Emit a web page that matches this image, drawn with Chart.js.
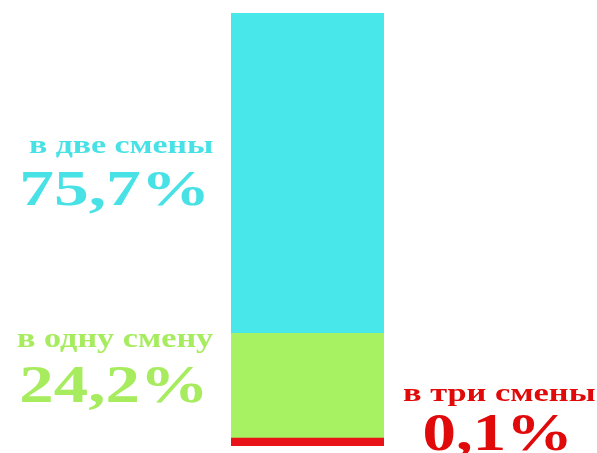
<!DOCTYPE html>
<html>
<head>
<meta charset="utf-8">
<script src="https://cdn.jsdelivr.net/npm/chart.js@4/dist/chart.umd.min.js"></script>
<style>
  html, body { margin: 0; padding: 0; background: #fff; }
  #wrap { width: 597px; height: 453px; }
</style>
</head>
<body>
<div id="wrap"><canvas id="shifts"></canvas></div>
<script>
// ---- data ----
const categories = ['Смены'];
const seriesNames = ['в три смены', 'в одну смену', 'в две смены'];
const seriesValues = [0.1, 24.2, 75.7];
const valueLabels = ['0,1%', '24,2%', '75,7%'];
const barColors = ['#e8141a', '#a6f262', '#48e8ea'];
const textColors = ['#e00a0a', '#a6ec5e', '#48e2e6'];

// ---- label boxes: [left, right, baseline, glyph height] ----
const nameBoxes = [[403, 595, 401, 12], [17, 213, 347, 13], [29, 213, 153, 12]];
const valueBoxes = [[425, 567, 450, 35], [22, 203, 402, 34], [22, 205, 205, 33]];

const serif = '"Liberation Serif", "Times New Roman", Tinos, serif';

// fit a bold serif string into a box (stretched horizontally like the original)
function drawFitted(ctx, text, box, probe, color) {
    const [left, right, base, h] = box;
    ctx.save();
    ctx.font = 'bold 100px ' + serif;
    const ratio = ctx.measureText(probe).actualBoundingBoxAscent / 100;
    const size = h / ratio;
    ctx.font = 'bold ' + size.toFixed(1) + 'px ' + serif;
    ctx.textAlign = 'left';
    ctx.textBaseline = 'alphabetic';
    const m = ctx.measureText(text);
    const inkW = m.actualBoundingBoxLeft + m.actualBoundingBoxRight;
    const sx = (right - left) / inkW;
    ctx.fillStyle = color;
    ctx.translate(left, base);
    ctx.scale(sx, 1);
    ctx.fillText(text, m.actualBoundingBoxLeft, 0);
    ctx.restore();
}

const sideLabels = {
    id: 'sideLabels',
    afterDraw(chart) {
        const ctx = chart.ctx;
        seriesNames.forEach((name, i) => {
            drawFitted(ctx, name, nameBoxes[i], 'в', textColors[i]);
            drawFitted(ctx, valueLabels[i], valueBoxes[i], '7', textColors[i]);
        });
    }
};

new Chart(document.getElementById('shifts').getContext('2d'), {
    type: 'bar',
    data: {
        labels: categories,
        datasets: seriesNames.map((name, i) => ({
            label: name,
            data: [seriesValues[i]],
            backgroundColor: barColors[i],
            borderWidth: 0,
            minBarLength: i === 0 ? 8 : 0,
            order: i === 0 ? 0 : 1,
            barPercentage: 1,
            categoryPercentage: 1
        }))
    },
    options: {
        responsive: true,
        maintainAspectRatio: false,
        animation: false,
        layout: { padding: { left: 231, right: 213, top: 13, bottom: 7 } },
        plugins: { legend: { display: false }, tooltip: { enabled: false } },
        scales: {
            x: { stacked: true, display: false },
            y: { stacked: true, display: false, min: 0, max: 100 }
        }
    },
    plugins: [sideLabels]
});
</script>
</body>
</html>
